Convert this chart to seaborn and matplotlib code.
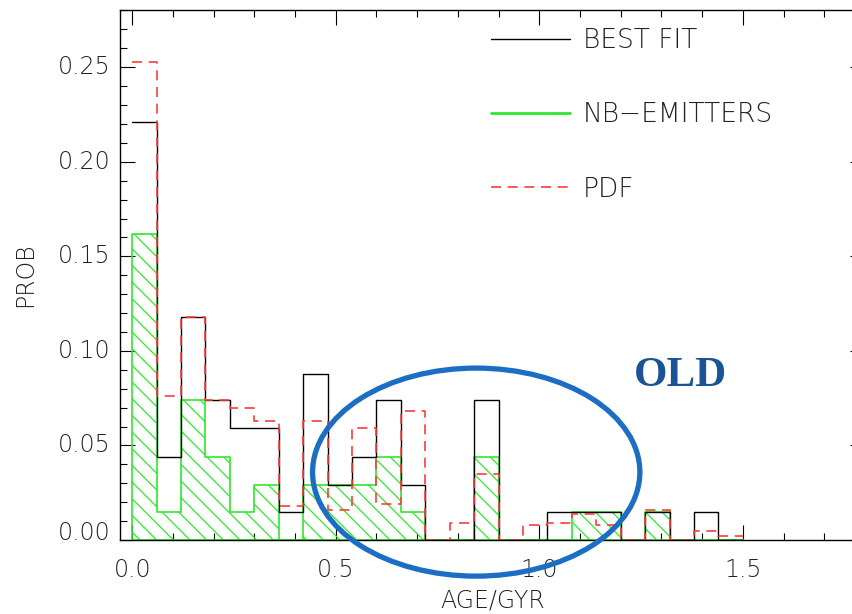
import numpy as np
import matplotlib
matplotlib.use("Agg")
import matplotlib.pyplot as plt
from matplotlib.lines import Line2D
from matplotlib.patches import Ellipse
import seaborn as sns

# ---- data ----
bin_edges = [round(0.06 * i, 2) for i in range(26)]  # 0.00 ... 1.50
best_fit = [0.221, 0.044, 0.118, 0.074, 0.059, 0.059, 0.015, 0.088, 0.029, 0.044,
            0.074, 0.029, 0.0, 0.0, 0.074, 0.0, 0.0, 0.015, 0.015, 0.015,
            0.0, 0.015, 0.0, 0.015, 0.0]
nb_emitters = [0.162, 0.015, 0.074, 0.044, 0.015, 0.029, 0.0, 0.029, 0.029, 0.029,
               0.044, 0.015, 0.0, 0.0, 0.044, 0.0, 0.0, 0.0, 0.015, 0.015,
               0.0, 0.015, 0.0, 0.0, 0.0]
pdf = [0.253, 0.076, 0.118, 0.074, 0.070, 0.063, 0.018, 0.063, 0.016, 0.059,
       0.019, 0.068, 0.0, 0.009, 0.035, 0.0, 0.008, 0.009, 0.014, 0.008,
       0.0, 0.016, 0.0, 0.005, 0.002]
legend_labels = ["BEST FIT", "NB\u2212EMITTERS", "PDF"]
x_label = "AGE/GYR"
y_label = "PROB"
note = "OLD"

centers = [(bin_edges[i] + bin_edges[i + 1]) / 2 for i in range(len(bin_edges) - 1)]

sns.set_theme(style="ticks")
plt.rcParams["font.family"] = ["DejaVu Sans"]
plt.rcParams["font.weight"] = "light"
plt.rcParams["axes.labelweight"] = "light"
plt.rcParams["hatch.color"] = "#2ee82e"
plt.rcParams["hatch.linewidth"] = 0.9

GREEN = "#2ee82e"
RED = "#ff3b3b"
TXT = "#222222"

fig = plt.figure(figsize=(8.52, 6.14), dpi=100)
ax = fig.add_axes([120 / 852, 74 / 614, 745 / 852, 529.5 / 614])

sns.histplot(x=centers, weights=nb_emitters, bins=bin_edges, element="step",
             fill=True, color=GREEN, facecolor="none", edgecolor=GREEN,
             hatch="\\\\", linewidth=1.2, ax=ax)
sns.histplot(x=centers, weights=best_fit, bins=bin_edges, element="step",
             fill=False, color="black", linewidth=1.0, ax=ax)
sns.histplot(x=centers, weights=pdf, bins=bin_edges, element="step",
             fill=False, color=RED, linewidth=1.2, linestyle=(0, (6, 4)), ax=ax)

ax.set_xlim(-0.03, 1.8)
ax.set_ylim(0, 0.28)
ax.set_xticks([0.0, 0.5, 1.0, 1.5])
ax.set_xticks(np.arange(0.0, 1.81, 0.1), minor=True)
ax.set_yticks([0.0, 0.05, 0.10, 0.15, 0.20, 0.25])
ax.set_yticks(np.arange(0.0, 0.281, 0.01), minor=True)
ax.xaxis.set_major_formatter(matplotlib.ticker.FormatStrFormatter("%.1f"))
ax.yaxis.set_major_formatter(matplotlib.ticker.FormatStrFormatter("%.2f"))
ax.tick_params(which="both", direction="in", top=True, right=True, color="black", width=0.8)
ax.tick_params(which="major", length=11)
ax.tick_params(which="minor", length=5)
ax.tick_params(axis="y", which="major", pad=7, labelsize=17, labelcolor=TXT)
ax.tick_params(axis="x", which="major", pad=13, labelsize=17, labelcolor=TXT)
for s in ax.spines.values():
    s.set_linewidth(1.0)
    s.set_color("black")
yt = ax.yaxis.get_major_ticks()
for t in yt[1:]:
    t.label1.set_va("center")
yt[0].label1.set_va("baseline")

ax.set_xlabel(x_label, fontsize=17, color=TXT, va="center", fontweight="light")
ax.set_ylabel(y_label, fontsize=17, color=TXT, va="center", fontweight="light")
ax.xaxis.set_label_coords((493 - 120) / 745, -(600 - 540) / 529.5)
ax.yaxis.set_label_coords(-(120 - 25) / 745, (540 - 275) / 529.5)

handles = [Line2D([], [], color="black", lw=1.0),
           Line2D([], [], color=GREEN, lw=2.0),
           Line2D([], [], color=RED, lw=1.2, linestyle=(0, (6, 4)))]
leg = ax.legend(handles, legend_labels, loc="upper left",
                bbox_to_anchor=((493 - 120) / 745 - 0.003, (540 - 28) / 529.5),
                frameon=False, fontsize=19, handlelength=3.0, handletextpad=0.5,
                labelspacing=1.87, borderaxespad=0, borderpad=0)
for t in leg.get_texts():
    t.set_color(TXT)

ax.text(0.845 + (682.5 - 477.3) / 408, (539.5 - 376) / 1890, note,
        fontsize=31, fontweight="bold", family="Liberation Serif",
        color="#1a5496", ha="center", va="center")
ax.add_patch(Ellipse((0.845, 0.0359), 0.804, 0.110, fill=False,
                     edgecolor="#1b6ec2", linewidth=3.8, clip_on=False, zorder=5))

fig.savefig("out.png", dpi=100)
